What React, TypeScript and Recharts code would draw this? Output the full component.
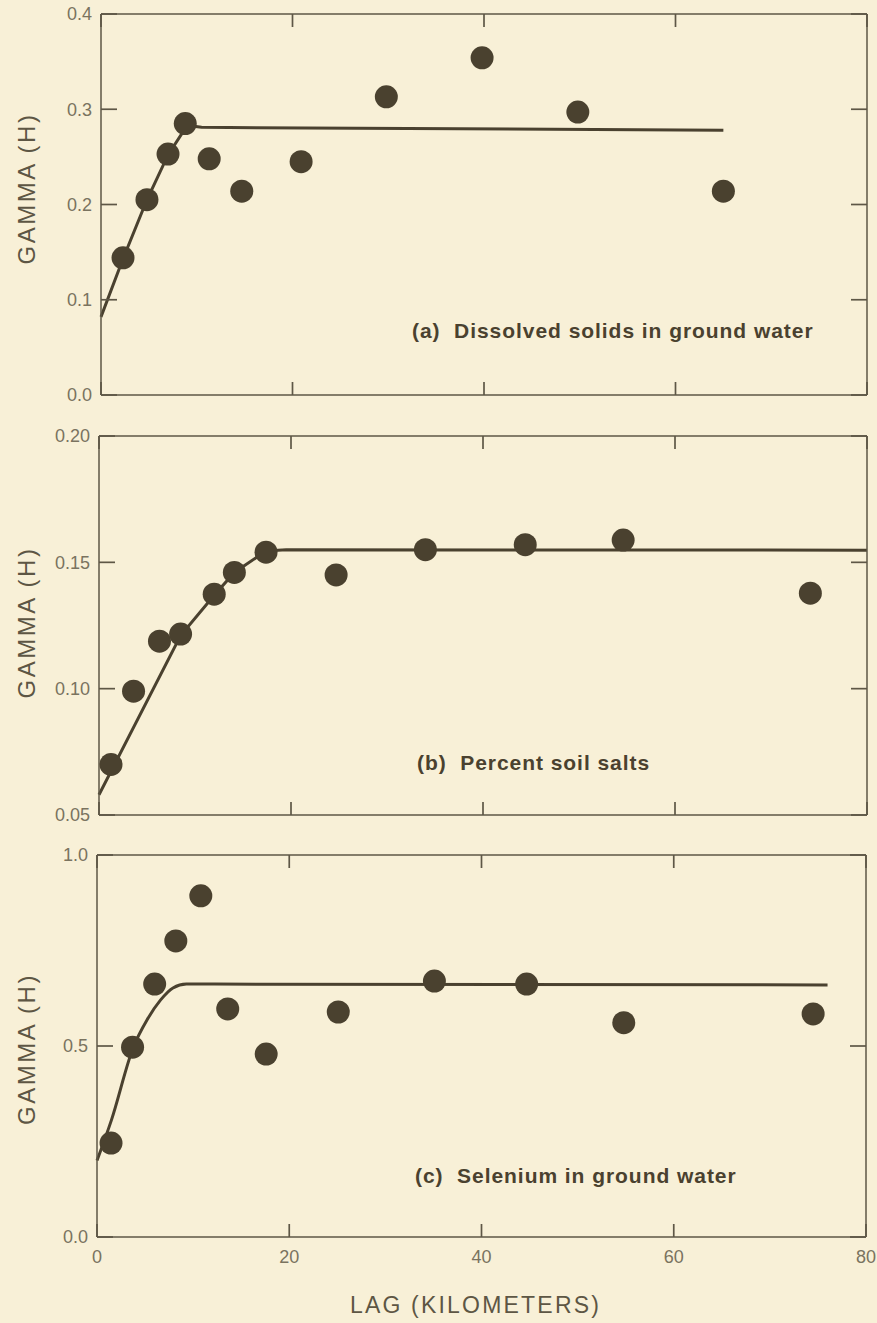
import React from 'react';
import { ComposedChart, Line, Scatter, XAxis, YAxis } from 'recharts';

// lag axis (km), shared by all three panels
const lagTicks = [0, 20, 40, 60, 80];

// (a) dissolved solids in ground water
const solidsLag = [2.3, 4.8, 7.0, 8.8, 11.3, 14.7, 20.9, 29.8, 39.8, 49.8, 65.0];
const solidsGamma = [0.144, 0.205, 0.253, 0.285, 0.248, 0.214, 0.245, 0.313, 0.354, 0.297, 0.214];
const solidsFitLag = [0, 2.3, 4.8, 7.0, 9.0, 10.5, 65];
const solidsFitGamma = [0.082, 0.143, 0.205, 0.252, 0.283, 0.281, 0.278];
const solidsTicks = [0, 0.1, 0.2, 0.3, 0.4];

// (b) percent soil salts
const saltsLag = [1.25, 3.6, 6.3, 8.5, 12.0, 14.1, 17.4, 24.7, 34.0, 44.4, 54.6, 74.1];
const saltsGamma = [0.07, 0.099, 0.1188, 0.1216, 0.1374, 0.146, 0.154, 0.145, 0.155, 0.157, 0.1588, 0.1378];
const saltsFitLag = [0, 8.5, 12.0, 14.1, 17.4, 19.5, 80];
const saltsFitGamma = [0.058, 0.121, 0.137, 0.146, 0.1545, 0.155, 0.1548];
const saltsTicks = [0.05, 0.1, 0.15, 0.2];

// (c) selenium in ground water
const seleniumLag = [1.46, 3.7, 6.0, 8.2, 10.8, 13.6, 17.6, 25.1, 35.1, 44.7, 54.8, 74.5];
const seleniumGamma = [0.246, 0.497, 0.662, 0.775, 0.893, 0.597, 0.479, 0.589, 0.67, 0.662, 0.561, 0.584];
const seleniumFitLag = [0, 1.5, 3.8, 5.2, 6.6, 7.9, 9.3, 76];
const seleniumFitGamma = [0.2, 0.306, 0.498, 0.568, 0.62, 0.652, 0.662, 0.66];
const seleniumTicks = [0, 0.5, 1.0];

const INK = '#4a412f';
const AXIS = '#5e5746';
const LABEL = '#7a735f';
const TITLE = '#5d5644';
const FONT = '"Liberation Sans", Arial, Helvetica, sans-serif';

const zip = (xs: number[], ys: number[]) => xs.map((x, i) => ({ x, y: ys[i] }));

// eslint-disable-next-line @typescript-eslint/no-explicit-any
const Dot = (props: any) => {
  const { cx, cy } = props;
  if (cx == null || cy == null) return null;
  return <circle cx={cx} cy={cy} r={11.5} fill={INK} />;
};

// left axis tick: label outside, short tick mark pointing into the plot
// eslint-disable-next-line @typescript-eslint/no-explicit-any
const LeftTick = (props: any) => {
  const { x, y, payload, digits } = props;
  return (
    <g>
      <line x1={x + 9} x2={x + 25} y1={y} y2={y} stroke={AXIS} strokeWidth={1.7} />
      <text x={x} y={y} dy="0.36em" textAnchor="end" fill={LABEL} fontSize={18} fontFamily={FONT}>
        {Number(payload.value).toFixed(digits)}
      </text>
    </g>
  );
};

interface Box {
  left: number;
  right: number;
  top: number;
  bottom: number;
}

interface PanelProps {
  top: number;
  height: number;
  box: Box;
  points: { x: number; y: number }[];
  fit: { x: number; y: number }[];
  curve: 'linear' | 'monotone';
  yDomain: [number, number];
  yTicks: number[];
  digits: number;
  labelShift?: number;
  showLag?: boolean;
}

function Panel({ top, height, box, points, fit, curve, yDomain, yTicks, digits, labelShift = 0, showLag }: PanelProps) {
  const width = 877;
  const leftW = box.left - 10;
  const rightW = 4;
  const topH = 4;
  const bottomH = showLag ? 80 : 10;
  const margin = {
    left: 10,
    right: width - box.right - rightW,
    top: box.top - top - topH,
    bottom: top + height - box.bottom - bottomH,
  };
  const tickStyle = { fill: LABEL, fontSize: 18, fontFamily: FONT };
  const axisLine = { stroke: AXIS, strokeWidth: 1.5 };
  const tickLine = { stroke: AXIS, strokeWidth: 1.7 };
  const blank = () => '';

  return (
    <div style={{ position: 'absolute', left: 0, top, width, height }}>
      <ComposedChart width={width} height={height} margin={margin}>
        <XAxis
          xAxisId="bottom"
          type="number"
          dataKey="x"
          domain={[0, 80]}
          ticks={lagTicks}
          height={bottomH}
          tickSize={-13}
          tickMargin={26}
          tickFormatter={showLag ? (v: number) => String(v) : blank}
          tick={tickStyle}
          axisLine={axisLine}
          tickLine={tickLine}
          label={
            showLag
              ? {
                  value: 'LAG (KILOMETERS)',
                  position: 'insideBottom',
                  offset: 4,
                  dx: -6,
                  style: { fill: TITLE, fontSize: 23, fontFamily: FONT, letterSpacing: 2.2 },
                }
              : undefined
          }
        />
        <XAxis
          xAxisId="top"
          orientation="top"
          type="number"
          dataKey="x"
          domain={[0, 80]}
          ticks={lagTicks}
          height={topH}
          tickSize={-13}
          tickFormatter={blank}
          axisLine={axisLine}
          tickLine={tickLine}
        />
        <YAxis
          yAxisId="left"
          type="number"
          domain={yDomain}
          ticks={yTicks}
          width={leftW}
          tickSize={0}
          tickMargin={9}
          tick={<LeftTick digits={digits} />}
          axisLine={axisLine}
          tickLine={false}
          label={{
            value: 'GAMMA (H)',
            angle: -90,
            position: 'insideLeft',
            offset: 16,
            dy: labelShift,
            style: { textAnchor: 'middle', fill: TITLE, fontSize: 24, fontFamily: FONT, letterSpacing: 2.5 },
          }}
        />
        <YAxis
          yAxisId="right"
          orientation="right"
          type="number"
          domain={yDomain}
          ticks={yTicks}
          width={rightW}
          tickSize={-16}
          tickFormatter={blank}
          axisLine={axisLine}
          tickLine={tickLine}
        />
        {/* invisible copy of the fit so the top and right frame axes get their ticks */}
        <Line
          xAxisId="top"
          yAxisId="right"
          data={fit}
          dataKey="y"
          type={curve}
          stroke="none"
          dot={false}
          activeDot={false}
          legendType="none"
          isAnimationActive={false}
        />
        <Line
          xAxisId="bottom"
          yAxisId="left"
          data={fit}
          dataKey="y"
          type={curve}
          stroke={INK}
          strokeWidth={3}
          dot={false}
          activeDot={false}
          isAnimationActive={false}
        />
        <Scatter
          xAxisId="bottom"
          yAxisId="left"
          data={points}
          dataKey="y"
          shape={<Dot />}
          isAnimationActive={false}
        />
      </ComposedChart>
    </div>
  );
}

const captionStyle: React.CSSProperties = {
  position: 'absolute',
  fontFamily: FONT,
  fontWeight: 'bold',
  fontSize: 21,
  letterSpacing: 0.95,
  color: INK,
  whiteSpace: 'pre',
  lineHeight: '21px',
};

export default function App() {
  return (
    <div
      style={{
        position: 'absolute',
        left: 0,
        top: 0,
        width: 877,
        height: 1323,
        background: '#f8f0d7',
        overflow: 'hidden',
      }}
    >
      <Panel
        top={0}
        height={430}
        box={{ left: 101, right: 867, top: 14, bottom: 395 }}
        points={zip(solidsLag, solidsGamma)}
        fit={zip(solidsFitLag, solidsFitGamma)}
        curve="linear"
        yDomain={[0, 0.4]}
        yTicks={solidsTicks}
        digits={1}
        labelShift={-16}
      />
      <Panel
        top={420}
        height={410}
        box={{ left: 99, right: 867, top: 436, bottom: 815 }}
        points={zip(saltsLag, saltsGamma)}
        fit={zip(saltsFitLag, saltsFitGamma)}
        curve="linear"
        yDomain={[0.05, 0.2]}
        yTicks={saltsTicks}
        digits={2}
        labelShift={-3}
      />
      <Panel
        top={835}
        height={488}
        box={{ left: 97, right: 866, top: 855, bottom: 1237 }}
        points={zip(seleniumLag, seleniumGamma)}
        fit={zip(seleniumFitLag, seleniumFitGamma)}
        curve="monotone"
        yDomain={[0, 1]}
        yTicks={seleniumTicks}
        digits={1}
        labelShift={3}
        showLag
      />
      <div style={{ ...captionStyle, left: 412, top: 320 }}>{'(a)  Dissolved solids in ground water'}</div>
      <div style={{ ...captionStyle, left: 417, top: 752 }}>{'(b)  Percent soil salts'}</div>
      <div style={{ ...captionStyle, left: 415, top: 1165 }}>{'(c)  Selenium in ground water'}</div>
    </div>
  );
}
